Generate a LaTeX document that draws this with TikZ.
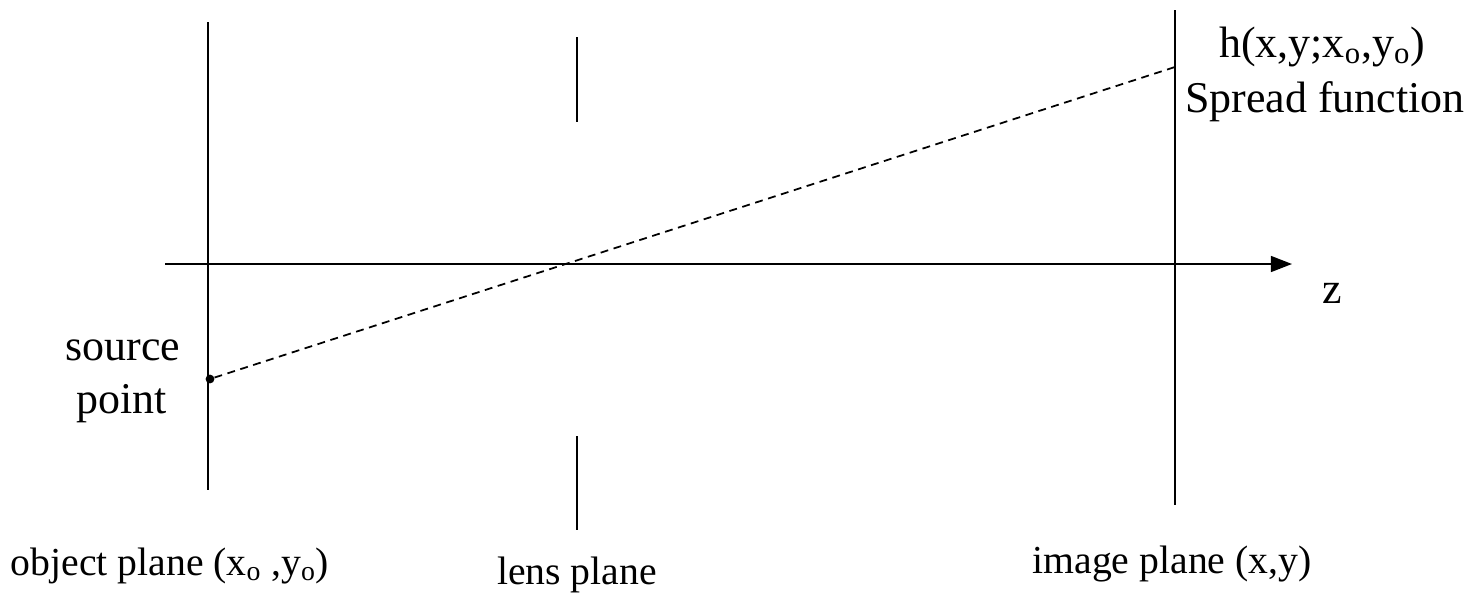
\documentclass[tikz,border=0pt]{standalone}
\usepackage{fontspec}
\setmainfont{Liberation Serif}
\usepackage{tikz}
\usetikzlibrary{arrows.meta,positioning,calc}

\begin{document}
\begin{tikzpicture}[x=0.02cm, y=-0.02cm,
        plane/.style={line width=1pt},
        ray/.style={line width=1pt, dash pattern=on 4.5pt off 3.2pt},
        axis/.style={-{Triangle[length=12pt, width=9pt]}, line width=1.2pt},
        lbl/.style={font=\fontsize{25}{30}\selectfont, inner sep=0pt, anchor=base},
        planelbl/.style={lbl, font=\fontsize{22.6}{27}\selectfont}
    ]
    \useasboundingbox (0,0) rectangle (1474,592);
    % optical axis
    \coordinate (zstart) at (165,264);
    \coordinate (zend) at (1292,264);
    \draw[axis] (zstart) -- (zend);
    \node[lbl] (zlbl) at (1332,303) {z};

    % planes
    \coordinate (objtop) at (208,22);
    \coordinate (objbot) at (208,490);
    \coordinate (lenstop1) at (577,37);
    \coordinate (lenstop2) at (577,122);
    \coordinate (lensbot1) at (577,436);
    \coordinate (lensbot2) at (577,530);
    \coordinate (imgtop) at (1175,10);
    \coordinate (imgbot) at (1175,505);
    \draw[plane] (objtop) -- (objbot);
    \draw[plane] (lenstop1) -- (lenstop2);
    \draw[plane] (lensbot1) -- (lensbot2);
    \draw[plane] (imgtop) -- (imgbot);

    % source point and ray
    \node[circle, fill, inner sep=0pt, minimum size=5pt] (src) at (210,379) {};
    \coordinate (spread) at (1175,67);
    \draw[ray] (src) -- (spread);

    \node[lbl] (srclbl) at (123,360) {source};
    \node[lbl] (ptlbl) at (122,413) {point};
    \node[lbl] (hlbl) at (1322,57) {h(x,y;x\textsubscript{o},y\textsubscript{o})};
    \node[lbl] (spreadlbl) at (1325,112) {Spread function};

    \node[planelbl] (objlbl) at (170,575) {object plane (x\textsubscript{o} ,y\textsubscript{o})};
    \node[planelbl] (lenslbl) at (577,584) {lens plane};
    \node[planelbl] (imglbl) at (1172,573) {image plane (x,y)};
\end{tikzpicture}
\end{document}
